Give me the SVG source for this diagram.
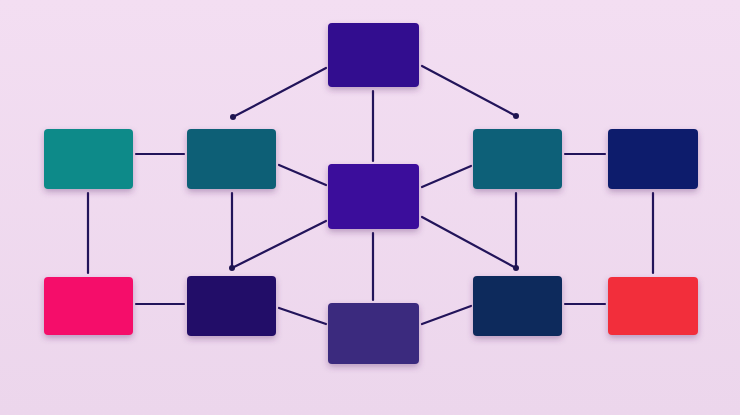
<svg xmlns="http://www.w3.org/2000/svg" width="740" height="415" viewBox="0 0 740 415">
<defs>
<filter id="sh" x="-20%" y="-20%" width="140%" height="150%">
<feDropShadow dx="0" dy="3" stdDeviation="3" flood-color="#5a2a6a" flood-opacity="0.35"/>
</filter>
<linearGradient id="bg" x1="0" y1="0" x2="0" y2="1">
<stop offset="0" stop-color="#f3def2"/>
<stop offset="1" stop-color="#ecd6ec"/>
</linearGradient>
</defs>
<style>
.n{filter:url(#sh)}
.c line{stroke:#22145a;stroke-width:2.2;stroke-linecap:round}
.c circle{fill:#1e1450}
</style>
<rect width="740" height="415" fill="url(#bg)"/>
<g class="c" id="connectors">
<line x1="326" y1="68" x2="233" y2="117"/>
<line x1="422" y1="66" x2="516" y2="116"/>
<line x1="373" y1="91" x2="373" y2="161"/>
<line x1="279" y1="165" x2="326" y2="185"/>
<line x1="471" y1="166" x2="422" y2="187"/>
<line x1="232" y1="193" x2="232" y2="268"/>
<line x1="326" y1="221" x2="232" y2="268"/>
<line x1="516" y1="193" x2="516" y2="268"/>
<line x1="422" y1="217" x2="516" y2="268"/>
<line x1="373" y1="233" x2="373" y2="300"/>
<line x1="279" y1="308" x2="326" y2="324"/>
<line x1="422" y1="324" x2="471" y2="306"/>
<line x1="136" y1="154" x2="184" y2="154"/>
<line x1="88" y1="193" x2="88" y2="273"/>
<line x1="136" y1="304" x2="184" y2="304"/>
<line x1="565" y1="154" x2="605" y2="154"/>
<line x1="653" y1="193" x2="653" y2="273"/>
<line x1="565" y1="304" x2="605" y2="304"/>
<circle cx="233" cy="117" r="3"/>
<circle cx="516" cy="116" r="3"/>
<circle cx="232" cy="268" r="3"/>
<circle cx="516" cy="268" r="3"/>
</g>
<g id="node-top" class="n"><rect x="328" y="23" width="91" height="64" rx="4" fill="#30088f"/></g>
<g id="node-center" class="n"><rect x="328" y="164" width="91" height="65" rx="4" fill="#3a079b"/></g>
<g id="node-bottom-center" class="n"><rect x="328" y="303" width="91" height="61" rx="4" fill="#3a2a7e"/></g>
<g id="node-left-teal" class="n"><rect x="187" y="129" width="89" height="60" rx="4" fill="#0a5f76"/></g>
<g id="node-right-teal" class="n"><rect x="473" y="129" width="89" height="60" rx="4" fill="#0a6078"/></g>
<g id="node-far-left" class="n"><rect x="44" y="129" width="89" height="60" rx="4" fill="#0d8a89"/></g>
<g id="node-far-right" class="n"><rect x="608" y="129" width="90" height="60" rx="4" fill="#0b1e6c"/></g>
<g id="node-pink" class="n"><rect x="44" y="277" width="89" height="58" rx="4" fill="#f50e6a"/></g>
<g id="node-bottom-left" class="n"><rect x="187" y="276" width="89" height="60" rx="4" fill="#230a68"/></g>
<g id="node-bottom-right" class="n"><rect x="473" y="276" width="89" height="60" rx="4" fill="#0d2a5b"/></g>
<g id="node-red" class="n"><rect x="608" y="277" width="90" height="58" rx="4" fill="#f22f3a"/></g>
</svg>
